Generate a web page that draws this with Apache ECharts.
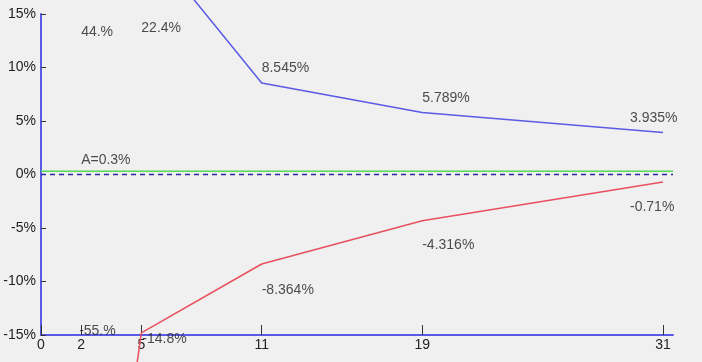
<!DOCTYPE html>
<html>
<head>
<meta charset="utf-8">
<script src="https://cdn.jsdelivr.net/npm/echarts@6/dist/echarts.min.js"></script>
<style>
  html, body { margin: 0; padding: 0; background: #f0f0f0; }
  #chart { width: 702px; height: 362px; }
</style>
</head>
<body>
<div id="chart"></div>
<script>
// x positions of the points
const xValues = [2, 5, 11, 19, 31];
const xTickLabels = [0, 2, 5, 11, 19, 31];
// upper (blue) and lower (red) curves, in %
const upperValues = [44, 22.4, 8.545, 5.789, 3.935];
const upperLabels = ['44.%', '22.4%', '8.545%', '5.789%', '3.935%'];
const lowerValues = [-55, -14.8, -8.364, -4.316, -0.71];
const lowerLabels = ['-55.%', '-14.8%', '-8.364%', '-4.316%', '-0.71%'];
// reference level A
const refA = 0.3;
const refALabel = 'A=0.3%';
const refZero = 0;

const yMin = -15, yMax = 15;

const chart = echarts.init(document.getElementById('chart'));

// labels are drawn on hidden points, kept inside the plot range
function labelPoints(vals, texts, offsets) {
  return vals.map((v, i) => ({
    value: [xValues[i], Math.max(yMin, Math.min(yMax, v))],
    label: { formatter: texts[i], offset: offsets[i] }
  }));
}

const textStyle = { color: '#222', fontSize: 14, fontFamily: 'Liberation Sans, Arial, sans-serif' };

chart.setOption({
  backgroundColor: '#f0f0f0',
  animation: false,
  grid: { left: 41, right: 29, top: 14, bottom: 27, containLabel: false, outerBoundsMode: 'none' },
  xAxis: {
    type: 'value',
    min: 0,
    max: 31.5,
    axisLine: { onZero: false, lineStyle: { color: '#5a5ae6', width: 2 } },
    axisTick: { inside: true, length: 10, customValues: xTickLabels, lineStyle: { color: '#333' } },
    axisLabel: Object.assign({ customValues: xTickLabels, margin: 3 }, textStyle),
    splitLine: { show: false }
  },
  yAxis: {
    type: 'value',
    min: yMin,
    max: yMax,
    interval: 5,
    axisLine: { show: true, onZero: false, lineStyle: { color: '#5a5ae6', width: 2 } },
    axisTick: { show: true, inside: true, length: 5, lineStyle: { color: '#333' } },
    axisLabel: Object.assign({ formatter: '{value}%', margin: 5 }, textStyle),
    splitLine: { show: false }
  },
  series: [
    {
      type: 'line',
      data: [[0, refZero], [31.5, refZero]],
      symbol: 'none',
      lineStyle: { color: '#2828a0', width: 1.5, type: [5, 4] },
      z: 3
    },
    {
      type: 'line',
      data: [[0, refA], [31.5, refA]],
      symbol: 'none',
      lineStyle: { color: '#55d855', width: 1.5 },
      z: 2
    },
    {
      type: 'line',
      clip: false,
      data: xValues.map((x, i) => [x, upperValues[i]]),
      symbol: 'none',
      lineStyle: { color: '#5a5ae6', width: 1.5 }
    },
    {
      type: 'line',
      clip: false,
      data: xValues.map((x, i) => [x, lowerValues[i]]),
      symbol: 'none',
      lineStyle: { color: '#e8505e', width: 1.5 }
    },
    {
      type: 'scatter',
      symbolSize: 0,
      silent: true,
      label: Object.assign({ show: true, position: 'inside', align: 'left', verticalAlign: 'middle' }, textStyle),
      data: labelPoints(upperValues, upperLabels, [[0, 18], [0, 14], [0, -15], [0, -14], [-33, -14]])
        .concat(labelPoints(lowerValues, lowerLabels, [[-2, -4], [1, 6], [0, 26], [0, 24], [-33, 25]]))
        .concat([{ value: [2, refA], label: { formatter: refALabel, offset: [0, -11] } }])
    }
  ]
});
</script>
</body>
</html>
